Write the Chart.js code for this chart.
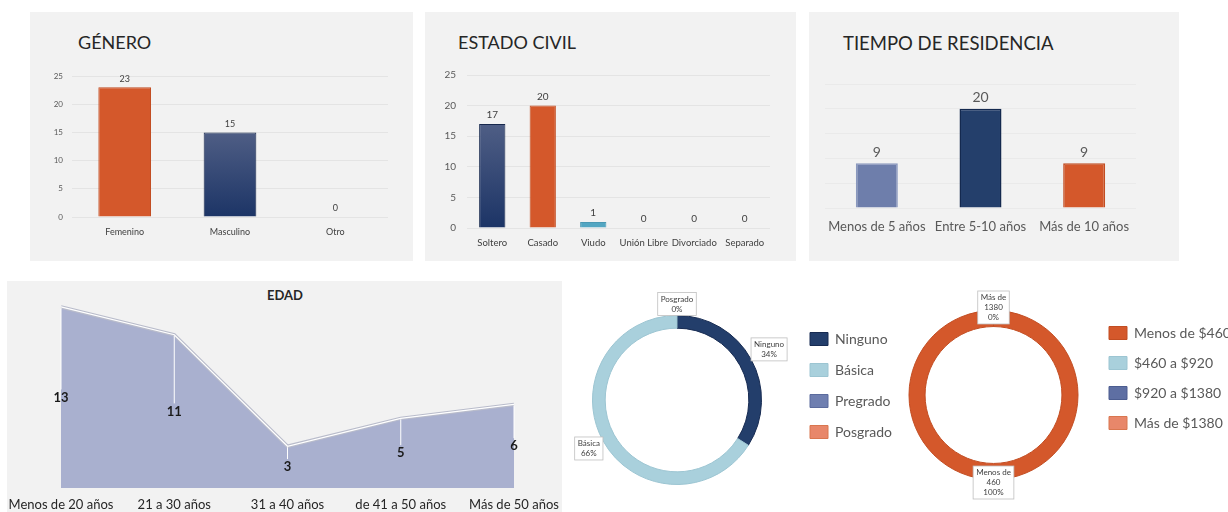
<!DOCTYPE html>
<html>
<head>
<meta charset="utf-8">
<script src="https://cdn.jsdelivr.net/npm/chart.js@4.4.1/dist/chart.umd.min.js"></script>
<style>
    body { margin: 0; background: #ffffff; width: 1228px; height: 512px; overflow: hidden; position: relative; font-family: Lato, sans-serif; }
    .panel { position: absolute; background: #f2f2f2; }
    canvas { position: absolute; }
    .titulo { position: absolute; color: #262626; white-space: nowrap; line-height: 1; }
</style>
</head>
<body>
<div class="panel" style="left:30px;top:12px;width:383px;height:249px"></div>
<div class="panel" style="left:425px;top:12px;width:371px;height:249px"></div>
<div class="panel" style="left:809px;top:12px;width:370px;height:249px"></div>
<div class="panel" style="left:7px;top:281px;width:555px;height:231px"></div>

<div class="titulo" style="left:78px;top:33px;font-size:18px">GÉNERO</div>
<div class="titulo" style="left:458px;top:33px;font-size:18px">ESTADO CIVIL</div>
<div class="titulo" style="left:843px;top:34px;font-size:18.5px">TIEMPO DE RESIDENCIA</div>
<div class="titulo" style="left:235px;width:100px;text-align:center;top:289px;font-size:13px;font-weight:bold">EDAD</div>

<canvas id="genero" width="383" height="249" style="left:30px;top:12px"></canvas>
<canvas id="civil" width="371" height="249" style="left:425px;top:12px"></canvas>
<canvas id="residencia" width="370" height="249" style="left:809px;top:12px"></canvas>
<canvas id="edad" width="555" height="231" style="left:7px;top:281px"></canvas>
<canvas id="educacion" width="358" height="230" style="left:555px;top:285px"></canvas>
<canvas id="ingreso" width="340" height="230" style="left:888px;top:280px"></canvas>

<script>
var generoLabels = ['Femenino', 'Masculino', 'Otro'];
var generoValues = [23, 15, 0];

var civilLabels = ['Soltero', 'Casado', 'Viudo', 'Unión Libre', 'Divorciado', 'Separado'];
var civilValues = [17, 20, 1, 0, 0, 0];

var residenciaLabels = ['Menos de 5 años', 'Entre 5-10 años', 'Más de 10 años'];
var residenciaValues = [9, 20, 9];

var edadLabels = ['Menos de 20 años', '21 a 30 años', '31 a 40 años', 'de 41 a 50 años', 'Más de 50 años'];
var edadValues = [13, 11, 3, 5, 6];

var educacionLabels = ['Ninguno', 'Básica', 'Pregrado', 'Posgrado'];
var educacionValues = [34, 66, 0, 0];
var educacionEtiquetas = ['Ninguno', 'Básica', null, 'Posgrado'];

var ingresoLabels = ['Menos de $460', '$460 a $920', '$920 a $1380', 'Más de $1380'];
var ingresoValues = [100, 0, 0, 0];
var ingresoEtiquetas = ['Menos de\n460', null, null, 'Más de\n1380'];

Chart.defaults.font.family = 'Lato, sans-serif';

var NARANJA = '#d4582b';
var AZUL = '#243f6b';

// navy bars fade from a lighter slate at the top
function degradeAzul(c) {
    var chart = c.chart;
    if (!chart.chartArea) return AZUL;
    var y = chart.scales.y;
    var g = chart.ctx.createLinearGradient(0, y.getPixelForValue(c.raw), 0, y.getPixelForValue(0));
    g.addColorStop(0, '#4f5e85');
    g.addColorStop(1, '#1c3466');
    return g;
}

function etiquetasValor(font, color, gap) {
    return {
        id: 'etiquetasValor',
        afterDatasetsDraw: function (chart) {
            var ctx = chart.ctx;
            var data = chart.data.datasets[0].data;
            ctx.save();
            ctx.font = font;
            ctx.fillStyle = color;
            ctx.textAlign = 'center';
            ctx.textBaseline = 'bottom';
            chart.getDatasetMeta(0).data.forEach(function (bar, i) {
                ctx.fillText(data[i], bar.x, bar.y - gap);
            });
            ctx.restore();
        }
    };
}

function llamadas(nombres, opts) {
    return {
        id: 'llamadas',
        afterDatasetsDraw: function (chart) {
            var ctx = chart.ctx;
            var data = chart.data.datasets[0].data;
            ctx.save();
            ctx.font = opts.font;
            chart.getDatasetMeta(0).data.forEach(function (arc, i) {
                if (!nombres[i]) return;
                var lineas = nombres[i].split('\n').concat([data[i] + '%']);
                var w = 0;
                lineas.forEach(function (l) { w = Math.max(w, ctx.measureText(l).width); });
                w += 6;
                var h = lineas.length * opts.alto + 3;
                var p = arc.getProps(['x', 'y', 'startAngle', 'endAngle', 'outerRadius'], true);
                var mid = (p.startAngle + p.endAngle) / 2;
                var dx = Math.cos(mid), dy = Math.sin(mid);
                var r = p.outerRadius + opts.offset;
                if (opts.fuera) {
                    var tx = Math.abs(dx) > 1e-6 ? (w / 2) / Math.abs(dx) : Infinity;
                    var ty = Math.abs(dy) > 1e-6 ? (h / 2) / Math.abs(dy) : Infinity;
                    r += Math.min(tx, ty);
                }
                var cx = p.x + dx * r, cy = p.y + dy * r;
                ctx.fillStyle = '#ffffff';
                ctx.fillRect(cx - w / 2, cy - h / 2, w, h);
                ctx.strokeStyle = '#bfbfbf';
                ctx.lineWidth = 0.8;
                ctx.strokeRect(cx - w / 2, cy - h / 2, w, h);
                ctx.fillStyle = '#404040';
                ctx.textAlign = 'center';
                ctx.textBaseline = 'middle';
                lineas.forEach(function (l, k) {
                    ctx.fillText(l, cx, cy - h / 2 + 1.5 + opts.alto * (k + 0.5));
                });
            });
            ctx.restore();
        }
    };
}

// the legend box is kept narrow for the layout, then widened so its text is not clipped
var legendaAncha = {
    id: 'legendaAncha',
    afterLayout: function (chart) {
        var l = chart.legend;
        if (l) {
            l.right = chart.width;
            l.width = l.right - l.left;
        }
    }
};

// GENERO
var generoColores = [NARANJA, null, '#e6e6e6'];
new Chart(document.getElementById('genero'), {
    type: 'bar',
    data: {
        labels: generoLabels,
        datasets: [{
            data: generoValues,
            backgroundColor: function (c) { return c.dataIndex === 1 ? degradeAzul(c) : generoColores[c.dataIndex]; },
            borderColor: ['#c24d22', '#17284d', '#e0e0e0'],
            borderWidth: 1,
            categoryPercentage: 1,
            barPercentage: 0.5
        }]
    },
    options: {
        responsive: false,
        animation: false,
        layout: { padding: { left: 0, right: 25, top: 64, bottom: 0 } },
        plugins: { legend: { display: false }, tooltip: { enabled: false } },
        scales: {
            x: {
                grid: { display: false, drawTicks: false },
                border: { display: false },
                ticks: { font: { size: 9 }, color: '#404040', padding: 10 },
                afterFit: function (s) { s.height = 44; }
            },
            y: {
                min: 0, max: 25,
                ticks: { stepSize: 5, font: { size: 8 }, color: '#595959', padding: 9 },
                grid: { color: '#e4e4e4', drawTicks: false },
                border: { display: false },
                afterFit: function (s) { s.width = 42; }
            }
        }
    },
    plugins: [etiquetasValor('9px Lato', '#404040', 4)]
});

// ESTADO CIVIL
var civilColores = [null, NARANJA, '#53a6c2', '#e6e6e6', '#e6e6e6', '#e6e6e6'];
new Chart(document.getElementById('civil'), {
    type: 'bar',
    data: {
        labels: civilLabels,
        datasets: [{
            data: civilValues,
            backgroundColor: function (c) { return c.dataIndex === 0 ? degradeAzul(c) : civilColores[c.dataIndex]; },
            borderColor: ['#17284d', '#c24d22', '#4a98b3', '#e0e0e0', '#e0e0e0', '#e0e0e0'],
            borderWidth: 1,
            categoryPercentage: 1,
            barPercentage: 0.52
        }]
    },
    options: {
        responsive: false,
        animation: false,
        layout: { padding: { left: 0, right: 26, top: 63, bottom: 0 } },
        plugins: { legend: { display: false }, tooltip: { enabled: false } },
        scales: {
            x: {
                grid: { display: false, drawTicks: false },
                border: { display: false },
                ticks: { font: { size: 9.5 }, color: '#404040', padding: 9, maxRotation: 0, autoSkip: false },
                afterFit: function (s) { s.height = 33; }
            },
            y: {
                min: 0, max: 25,
                ticks: { stepSize: 5, font: { size: 10 }, color: '#595959', padding: 11 },
                grid: { color: '#e4e4e4', drawTicks: false },
                border: { display: false },
                afterFit: function (s) { s.width = 42; }
            }
        }
    },
    plugins: [etiquetasValor('10px Lato', '#404040', 4)]
});

// TIEMPO DE RESIDENCIA
new Chart(document.getElementById('residencia'), {
    type: 'bar',
    data: {
        labels: residenciaLabels,
        datasets: [{
            data: residenciaValues,
            backgroundColor: ['#6e7eab', AZUL, NARANJA],
            borderColor: ['#8a98be', '#14294f', '#c24d22'],
            borderWidth: 1.5,
            categoryPercentage: 1,
            barPercentage: 0.405
        }]
    },
    options: {
        responsive: false,
        animation: false,
        layout: { padding: { left: 16, right: 43, top: 72, bottom: 0 } },
        plugins: { legend: { display: false }, tooltip: { enabled: false } },
        scales: {
            x: {
                grid: { display: false, drawTicks: false },
                border: { display: false },
                ticks: { font: { size: 13 }, color: '#595959', padding: 11, maxRotation: 0, autoSkip: false },
                afterFit: function (s) { s.height = 53; }
            },
            y: {
                min: 0, max: 25,
                ticks: { display: false, stepSize: 5 },
                grid: { color: '#eaeaea', drawTicks: false },
                border: { display: false },
                afterFit: function (s) { s.width = 0; }
            }
        }
    },
    plugins: [etiquetasValor('14px Lato', '#595959', 4)]
});

// EDAD
new Chart(document.getElementById('edad'), {
    type: 'line',
    data: {
        labels: edadLabels,
        datasets: [{
            data: edadValues,
            fill: 'origin',
            backgroundColor: '#a9b0cf',
            borderColor: '#ffffff',
            borderWidth: 1.2,
            pointRadius: 0,
            tension: 0
        }, {
            data: edadValues,
            fill: false,
            borderColor: '#b9bccb',
            borderWidth: 3.5,
            pointRadius: 0,
            tension: 0
        }]
    },
    options: {
        responsive: false,
        animation: false,
        layout: { padding: { left: 54, right: 48, top: 12, bottom: 0 } },
        plugins: {
            legend: { display: false },
            tooltip: { enabled: false },
            filler: { drawTime: 'beforeDatasetsDraw' }
        },
        scales: {
            x: {
                // tick marks are not drawn, their length only pushes the labels down
                grid: { display: false, drawTicks: true, tickLength: 9 },
                border: { display: false },
                ticks: { font: { size: 13 }, color: '#262626', padding: 0, maxRotation: 0, autoSkip: false },
                afterFit: function (s) { s.height = 24; }
            },
            y: { display: false, min: 0, max: 14 }
        }
    },
    plugins: [{
        id: 'lineasCaida',
        afterDatasetsDraw: function (chart) {
            var ctx = chart.ctx;
            var base = chart.scales.y.getPixelForValue(0);
            ctx.save();
            ctx.font = 'bold 13px Lato';
            ctx.textAlign = 'center';
            ctx.textBaseline = 'middle';
            chart.getDatasetMeta(0).data.forEach(function (pt, i) {
                var ly = (pt.y + base) / 2;
                ctx.strokeStyle = '#ffffff';
                ctx.lineWidth = 1;
                ctx.beginPath();
                ctx.moveTo(pt.x, pt.y + 1);
                ctx.lineTo(pt.x, ly - 8);
                ctx.stroke();
                ctx.fillStyle = '#1a1a1a';
                ctx.fillText(edadValues[i], pt.x, ly);
            });
            ctx.restore();
        }
    }]
});

// EDUCACION
new Chart(document.getElementById('educacion'), {
    type: 'doughnut',
    data: {
        labels: educacionLabels,
        datasets: [{
            data: educacionValues,
            backgroundColor: ['#233e6b', '#a9d0dc', '#6f7fb0', '#e8876a'],
            borderColor: ['#172b52', '#9cc5d2', '#5b6b9d', '#d9764f'],
            borderWidth: 1
        }]
    },
    options: {
        responsive: false,
        animation: false,
        cutout: '85%',
        layout: { padding: { left: 6, right: 30, top: 30, bottom: 30 } },
        plugins: {
            tooltip: { enabled: false },
            legend: {
                position: 'right',
                align: 'start',
                maxWidth: 90,
                labels: { boxWidth: 18, boxHeight: 13, padding: 17, font: { size: 14 }, color: '#595959' }
            }
        }
    },
    plugins: [legendaAncha, llamadas(educacionEtiquetas, { font: '8px Lato', alto: 10, offset: 0, fuera: true })]
});

// INGRESO
new Chart(document.getElementById('ingreso'), {
    type: 'doughnut',
    data: {
        labels: ingresoLabels,
        datasets: [{
            data: ingresoValues,
            backgroundColor: [NARANJA, '#a9d0dc', '#5e6fa3', '#e8876a'],
            borderColor: ['#c24d22', '#9cc5d2', '#4c5d90', '#d9764f'],
            borderWidth: 1
        }]
    },
    options: {
        responsive: false,
        animation: false,
        cutout: '81%',
        layout: { padding: { left: 6, right: 45, top: 30, bottom: 30 } },
        plugins: {
            tooltip: { enabled: false },
            legend: {
                position: 'right',
                align: 'start',
                maxWidth: 90,
                labels: { boxWidth: 18, boxHeight: 13, padding: 16, font: { size: 14 }, color: '#595959' }
            }
        }
    },
    plugins: [legendaAncha, llamadas(ingresoEtiquetas, { font: '8px Lato', alto: 10, offset: 3, fuera: false })]
});
</script>
</body>
</html>
